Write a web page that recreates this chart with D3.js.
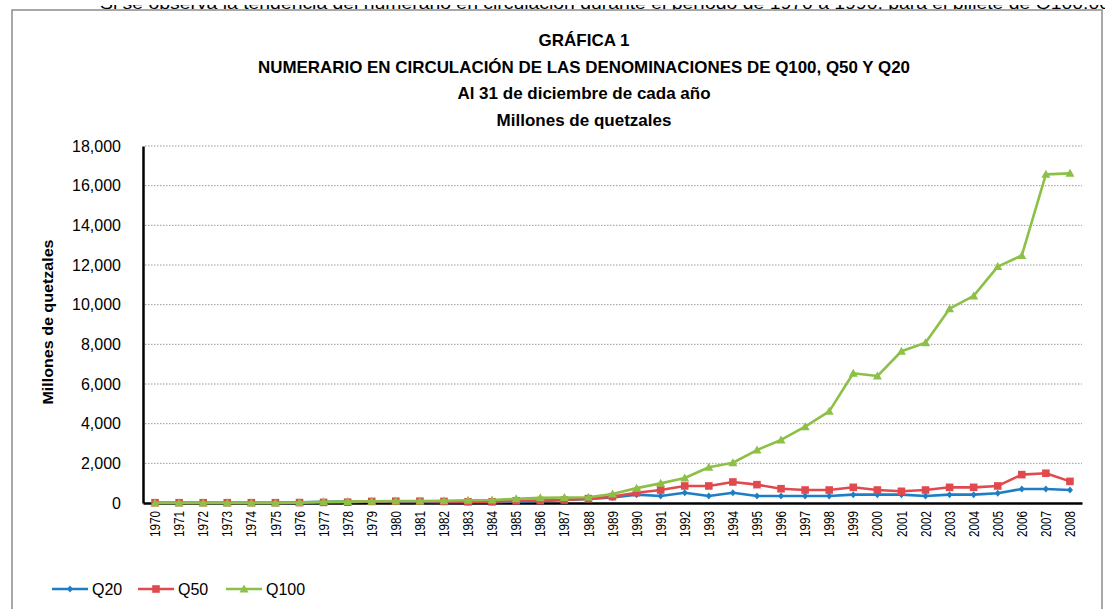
<!DOCTYPE html>
<html>
<head>
<meta charset="utf-8">
<script src="https://cdn.jsdelivr.net/npm/d3@7"></script>
<style>
  body { margin: 0; background: #fff; }
  svg { display: block; }
  text { font-family: "Liberation Sans", Arial, sans-serif; fill: #000; }
</style>
</head>
<body>
<svg id="chart" width="1105" height="609"></svg>
<script>
// categories
const years = [1970, 1971, 1972, 1973, 1974, 1975, 1976, 1977, 1978, 1979,
    1980, 1981, 1982, 1983, 1984, 1985, 1986, 1987, 1988, 1989,
    1990, 1991, 1992, 1993, 1994, 1995, 1996, 1997, 1998, 1999,
    2000, 2001, 2002, 2003, 2004, 2005, 2006, 2007, 2008];

// millones de quetzales
const q20 = [10, 10, 12, 12, 14, 15, 30, 60, 70, 60,
    55, 50, 45, 40, 45, 80, 100, 150, 200, 280,
    420, 350, 520, 350, 520, 350, 350, 350, 350, 420,
    420, 420, 350, 420, 420, 490, 705, 705, 655];
const q50 = [15, 15, 15, 15, 15, 15, 20, 30, 40, 80,
    90, 90, 80, 60, 60, 110, 120, 150, 220, 320,
    520, 655, 860, 860, 1060, 925, 720, 655, 655, 790,
    655, 590, 655, 790, 790, 860, 1430, 1500, 1090];
const q100 = [5, 5, 5, 5, 5, 5, 20, 60, 70, 90,
    100, 100, 110, 140, 150, 210, 260, 280, 290, 450,
    750, 990, 1260, 1800, 2030, 2670, 3180, 3850, 4620, 6540,
    6400, 7650, 8080, 9800, 10440, 11920, 12480, 16570, 16620];

const yTicks = [0, 2000, 4000, 6000, 8000, 10000, 12000, 14000, 16000, 18000];

const titleLines = ["GRÁFICA 1",
    "NUMERARIO EN CIRCULACIÓN DE LAS DENOMINACIONES DE Q100,  Q50 Y Q20",
    "Al 31 de diciembre de cada año",
    "Millones de quetzales"];

const series = [
    { name: "Q20", values: q20, color: "#1f7dc4", marker: "diamond" },
    { name: "Q50", values: q50, color: "#e04a4f", marker: "square" },
    { name: "Q100", values: q100, color: "#8cc047", marker: "triangle" }
];

let svg = d3.select('#chart');

// page text behind the chart (only its lower edge shows)
svg.append("text")
    .attr("x", 100).attr("y", 9)
    .attr("font-size", 16)
    .attr("fill", "#222")
    .attr("textLength", 1010).attr("lengthAdjust", "spacingAndGlyphs")
    .text("Si se observa la tendencia del numerario en circulación durante el período de 1970 a 1990, para el billete de Q100.00");
svg.append("rect")
    .attr("x", 0).attr("y", 0)
    .attr("width", 1105).attr("height", 5)
    .attr("fill", "#fff");

// chart frame
svg.append("rect")
    .attr("x", 12).attr("y", 10)
    .attr("width", 1090).attr("height", 640)
    .attr("fill", "#fff")
    .attr("stroke", "#8c8c8c")
    .attr("stroke-width", 1.5);

let x = d3.scaleBand().domain(years).range([143, 1082]).padding(0),
    y = d3.scaleLinear().domain([0, 18000]).range([503, 146]);

let cx = function(d, i) { return x(years[i]) + x.bandwidth() / 2; };

// title
svg.append("g").selectAll("text")
    .data(titleLines)
    .join("text")
    .attr("x", 584)
    .attr("y", function(d, i) { return 46 + i * 26.7; })
    .attr("text-anchor", "middle")
    .attr("font-size", 17)
    .attr("font-weight", "bold")
    .text(function(d) { return d; })
    .each(function(d, i) {
        // the long line spans about 652px in the original
        let len = this.getComputedTextLength();
        if (i === 1) len = 652;
        d3.select(this).attr("textLength", len).attr("lengthAdjust", "spacingAndGlyphs");
    });

// gridlines
svg.append("g")
    .selectAll("line")
    .data(yTicks.filter(function(t) { return t > 0; }))
    .join("line")
    .attr("x1", 145).attr("x2", 1082)
    .attr("y1", function(d) { return y(d); })
    .attr("y2", function(d) { return y(d); })
    .attr("stroke", "#9a9a9a")
    .attr("stroke-width", 1)
    .attr("stroke-dasharray", "1.5,1.5");

// y axis
let yAxis = svg.append("g")
    .attr("transform", "translate(143,0)")
    .call(d3.axisLeft(y).tickValues(yTicks).tickSize(0).tickPadding(22)
        .tickFormat(d3.format(",")));
yAxis.select(".domain").attr("stroke", "#000").attr("stroke-width", 2.5);
yAxis.selectAll("text")
    .attr("font-size", 16)
    .attr("font-family", "Liberation Sans, Arial, sans-serif");

// x axis
let xAxis = svg.append("g")
    .attr("transform", "translate(0,503)")
    .call(d3.axisBottom(x).tickSize(0).tickPadding(0));
xAxis.select(".domain").attr("stroke", "#000").attr("stroke-width", 2.5);
xAxis.selectAll("text")
    .attr("font-size", 14.5)
    .attr("font-family", "Liberation Sans, Arial, sans-serif")
    .attr("transform", "translate(0,8) rotate(-90)")
    .attr("text-anchor", "end")
    .attr("x", 0).attr("y", 0)
    .attr("dy", "0.35em")
    .attr("textLength", 26).attr("lengthAdjust", "spacingAndGlyphs");

// y axis title
svg.append("text")
    .attr("transform", "translate(53,322) rotate(-90)")
    .attr("text-anchor", "middle")
    .attr("font-size", 15)
    .attr("font-weight", "bold")
    .attr("textLength", 165).attr("lengthAdjust", "spacingAndGlyphs")
    .text("Millones de quetzales");

// marker shapes
function markerPath(type) {
    if (type === "diamond") return "M0,-3.5L3,0L0,3.5L-3,0Z";
    if (type === "square") return "M-3.8,-3.8H3.8V3.8H-3.8Z";
    return "M0,-4.5L4.5,3.5H-4.5Z";
}

let line = d3.line()
    .x(function(d, i) { return cx(d, i); })
    .y(function(d) { return y(d); });

let plot = svg.append("g");
series.forEach(function(s) {
    let g = plot.append("g");
    g.append("path")
        .datum(s.values)
        .attr("d", line)
        .attr("fill", "none")
        .attr("stroke", s.color)
        .attr("stroke-width", 2.6)
        .attr("stroke-linejoin", "round");
    g.selectAll("path.mk")
        .data(s.values)
        .join("path")
        .classed("mk", true)
        .attr("d", markerPath(s.marker))
        .attr("fill", s.color)
        .attr("transform", function(d, i) { return "translate(" + cx(d, i) + "," + y(d) + ")"; });
});

// legend
let legendX = [52, 138, 226];
let legend = svg.append("g").selectAll("g")
    .data(series)
    .join("g")
    .attr("transform", function(d, i) { return "translate(" + legendX[i] + ",589)"; });
legend.append("line")
    .attr("x1", 0).attr("x2", 36)
    .attr("stroke", function(d) { return d.color; })
    .attr("stroke-width", 2.6);
legend.append("path")
    .attr("d", function(d) { return markerPath(d.marker); })
    .attr("transform", "translate(18,0)")
    .attr("fill", function(d) { return d.color; });
legend.append("text")
    .attr("x", 40).attr("y", 6)
    .attr("font-size", 16)
    .text(function(d) { return d.name; });
</script>
</body>
</html>
